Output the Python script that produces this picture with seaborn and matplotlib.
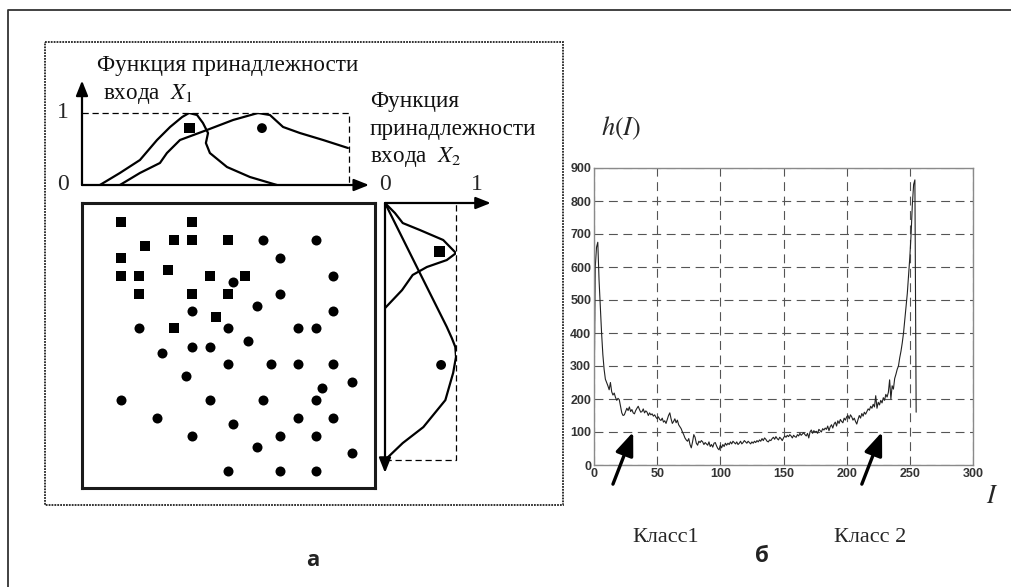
import numpy as np
import pandas as pd
import matplotlib.pyplot as plt
import seaborn as sns
from matplotlib.patches import Rectangle

W, H = 1011, 587

# --- данные: точки классов (X1 вправо, X2 вниз, 0..1) ---
sq_x1 = [0.133, 0.375, 0.314, 0.375, 0.498, 0.215, 0.133, 0.294, 0.133, 0.195,
         0.437, 0.556, 0.195, 0.375, 0.498, 0.457, 0.314]
sq_x2 = [0.067, 0.067, 0.130, 0.130, 0.130, 0.151, 0.193, 0.235, 0.256, 0.256,
         0.256, 0.256, 0.319, 0.319, 0.319, 0.400, 0.439]
ci_x1 = [0.618, 0.799, 0.676, 0.857, 0.515, 0.676, 0.597, 0.857, 0.375, 0.195,
         0.498, 0.737, 0.799, 0.567, 0.375, 0.437, 0.273, 0.498, 0.645, 0.737,
         0.857, 0.355, 0.922, 0.819, 0.133, 0.437, 0.618, 0.799, 0.256, 0.737,
         0.857, 0.515, 0.375, 0.676, 0.799, 0.597, 0.922, 0.498, 0.676, 0.799]
ci_x2 = [0.130, 0.130, 0.193, 0.256, 0.277, 0.319, 0.361, 0.379, 0.379, 0.439,
         0.439, 0.439, 0.439, 0.484, 0.505, 0.505, 0.526, 0.565, 0.565, 0.565,
         0.565, 0.607, 0.628, 0.649, 0.691, 0.691, 0.691, 0.691, 0.754, 0.754,
         0.754, 0.775, 0.818, 0.818, 0.818, 0.856, 0.877, 0.940, 0.940, 0.940]

# функции принадлежности входа X1
mf1_sq_x = [0.067, 0.142, 0.217, 0.281, 0.330, 0.375, 0.401, 0.431, 0.453, 0.472,
            0.464, 0.479, 0.543, 0.629, 0.730]
mf1_sq_mu = [0.0, 0.167, 0.347, 0.625, 0.806, 0.944, 1.0, 0.972, 0.861, 0.722,
             0.583, 0.444, 0.25, 0.111, 0.0]
mf1_ci_x = [0.142, 0.217, 0.292, 0.318, 0.367, 0.468, 0.566, 0.659, 0.704, 0.753,
            0.816, 0.903, 0.996]
mf1_ci_mu = [0.0, 0.167, 0.306, 0.444, 0.625, 0.764, 0.903, 1.0, 0.972, 0.806,
             0.722, 0.625, 0.514]

# функции принадлежности входа X2
mf2_sq_x2 = [0.0, 0.039, 0.078, 0.105, 0.144, 0.195, 0.222, 0.249, 0.28, 0.339, 0.409]
mf2_sq_mu = [0.0, 0.14, 0.25, 0.49, 0.82, 1.0, 0.87, 0.59, 0.39, 0.24, 0.0]
mf2_ci_x2 = [0.0, 0.272, 0.482, 0.525, 0.560, 0.599, 0.661, 0.767, 0.872, 0.934, 1.0]
mf2_ci_mu = [0.0, 0.49, 0.87, 0.94, 0.99, 1.0, 0.96, 0.85, 0.54, 0.25, 0.0]

# центры классов на графиках функций принадлежности
c1_x, c1_mu = [0.404, 0.674], [0.79, 0.79]
c2_mu, c2_x2 = [0.77, 0.79], [0.19, 0.63]

# гистограмма яркости h(I)
hist_h = [
    175, 600, 660, 675, 560, 480, 400, 335, 290, 260, 250, 240, 228, 250, 222, 212,
    218, 205, 196, 202, 198, 178, 158, 150, 152, 162, 172, 165, 176, 162, 168, 158,
    155, 165, 172, 178, 168, 160, 162, 170, 158, 164, 160, 150, 158, 152, 155, 148,
    152, 145, 140, 146, 138, 135, 142, 130, 134, 126, 138, 150, 158, 140, 126, 132,
    140, 128, 136, 122, 116, 110, 100, 92, 82, 76, 72, 80, 62, 52, 70, 92,
    84, 66, 60, 72, 68, 74, 70, 62, 68, 64, 60, 70, 56, 62, 54, 66,
    68, 58, 50, 46, 60, 52, 62, 56, 66, 60, 66, 62, 70, 64, 72, 68,
    64, 70, 62, 66, 72, 64, 68, 74, 70, 66, 72, 68, 64, 70, 66, 72,
    68, 74, 70, 76, 72, 80, 74, 82, 78, 72, 70, 76, 74, 80, 84, 78,
    86, 80, 76, 84, 80, 74, 82, 88, 84, 90, 86, 92, 88, 82, 90, 86,
    84, 92, 88, 96, 90, 94, 98, 92, 88, 96, 82, 100, 106, 96, 104, 100,
    102, 96, 108, 104, 100, 110, 106, 112, 108, 118, 104, 116, 122, 112, 124, 130,
    118, 134, 126, 138, 132, 128, 142, 136, 146, 150, 140, 152, 146, 136, 142, 132,
    124, 138, 150, 142, 156, 148, 160, 154, 162, 170, 166, 178, 172, 184, 176, 210,
    172, 190, 182, 196, 188, 204, 196, 214, 206, 220, 258, 200, 240, 230, 262, 275,
    290, 300, 325, 345, 370, 400, 440, 480, 520, 575, 630, 700, 790, 850, 864, 160]
hist_i = list(range(len(hist_h)))
x_ticks = [0, 50, 100, 150, 200, 250, 300]
y_ticks = [0, 100, 200, 300, 400, 500, 600, 700, 800, 900]
class_labels = ["Класс1", "Класс 2"]
class_arrow_i = [31, 228]

# --- оформление ---
sns.set_style("white")
plt.rcParams['font.family'] = ['Liberation Serif', 'DejaVu Serif']
plt.rcParams['mathtext.fontset'] = 'stix'

fig = plt.figure(figsize=(W / 100, H / 100), dpi=100)


def px_box(x0, y0, x1, y1):
    return [x0 / W, 1 - y1 / H, (x1 - x0) / W, (y1 - y0) / H]


def arrow(ax, x0, y0, x1, y1, lw=1.6, hl=0.9, hw=0.36):
    ax.annotate("", xy=(x1, y1), xytext=(x0, y0),
                arrowprops=dict(arrowstyle=f'-|>,head_length={hl},head_width={hw}',
                                color='k', lw=lw, shrinkA=0, shrinkB=0,
                                mutation_scale=10),
                annotation_clip=False)


# фон: рамки и подписи (в пикселях)
bg = fig.add_axes([0, 0, 1, 1], zorder=0)
bg.set_xlim(0, W)
bg.set_ylim(H, 0)
bg.axis('off')
bg.plot([8, 8, W], [H, 10, 10], color='#333333', lw=1.3, solid_capstyle='butt')
bg.add_patch(Rectangle((45, 42), 518, 463, fill=False, ec='#222222', lw=1.3,
                       ls=(0, (1, 0.6))))

txt = dict(fontsize=16.7, va='center', ha='left', color='#111111')
bg.text(97, 66, "Функция принадлежности", **txt)
bg.text(103, 94, "входа  $X_1$", **txt)
bg.text(370, 102, "Функция", **txt)
bg.text(370, 129, "принадлежности", **txt)
bg.text(370, 157, "входа  $X_2$", **txt)
bg.text(621, 128, "$h(I)$", fontsize=19, ha='center', va='center')
bg.text(992, 497, "$I$", fontsize=19, ha='center', va='center')
bg.text(666, 538, class_labels[0], fontsize=16, ha='center', va='center')
bg.text(870, 538, class_labels[1], fontsize=16, ha='center', va='center')
for x, y, s in [(313, 561, "а"), (762, 556, "б")]:
    bg.text(x, y, s, fontsize=16, fontweight='bold', ha='center', va='center',
            family=['Open Sans', 'DejaVu Sans'], color='#222222')

dash = dict(color='k', lw=0.9, ls=(0, (5, 3)), clip_on=False)

# --- функции принадлежности X1 (сверху) ---
ax1 = fig.add_axes(px_box(82, 113, 349, 185), zorder=1)
ax1.set_facecolor('none')
sns.lineplot(x=mf1_sq_x, y=mf1_sq_mu, sort=False, estimator=None, color='k',
             lw=1.6, ax=ax1)
sns.lineplot(x=mf1_ci_x, y=mf1_ci_mu, sort=False, estimator=None, color='k',
             lw=1.6, ax=ax1)
sns.scatterplot(x=c1_x, y=c1_mu, style=["sq", "ci"], markers={"sq": "s", "ci": "o"},
                color='k', s=[60, 50], linewidth=0, legend=False, ax=ax1)
ax1.set_xlim(0, 1)
ax1.set_ylim(0, 1)
ax1.plot([0, 1, 1], [1, 1, 0], **dash)
arrow(ax1, 0, 0, 1.075, 0)
arrow(ax1, 0, 0, 0, 1.45)
ax1.text(-0.072, 1, "1", fontsize=17, ha='center', va='center')
ax1.text(-0.072, 0, "0", fontsize=17, ha='center', va='center')
ax1.axis('off')

# --- функции принадлежности X2 (справа) ---
ax2 = fig.add_axes(px_box(385, 203, 456, 460), zorder=1)
ax2.set_facecolor('none')
sns.lineplot(x=mf2_sq_mu, y=mf2_sq_x2, sort=False, estimator=None, orient='y',
             color='k', lw=1.6, ax=ax2)
sns.lineplot(x=mf2_ci_mu, y=mf2_ci_x2, sort=False, estimator=None, orient='y',
             color='k', lw=1.6, ax=ax2)
sns.scatterplot(x=c2_mu, y=c2_x2, style=["sq", "ci"], markers={"sq": "s", "ci": "o"},
                color='k', s=[60, 50], linewidth=0, legend=False, ax=ax2)
ax2.set_xlim(0, 1)
ax2.set_ylim(1, 0)
ax2.plot([0, 1, 1], [1, 1, 0], **dash)
arrow(ax2, 0, 0, 1.49, 0)
arrow(ax2, 0, 0, 0, 1.05)
ax2.text(0, -0.072, "0", fontsize=17, ha='center', va='center')
ax2.text(1.30, -0.072, "1", fontsize=17, ha='center', va='center')
ax2.axis('off')

# --- диаграмма рассеяния ---
pts = pd.DataFrame({
    "x1": sq_x1 + ci_x1,
    "x2": sq_x2 + ci_x2,
    "cls": ["sq"] * len(sq_x1) + ["ci"] * len(ci_x1),
})
ax3 = fig.add_axes(px_box(82, 203, 375, 488), zorder=1)
ax3.set_facecolor('none')
sns.scatterplot(data=pts[pts.cls == "sq"], x="x1", y="x2", marker='s', color='k',
                s=62, linewidth=0, legend=False, ax=ax3)
sns.scatterplot(data=pts[pts.cls == "ci"], x="x1", y="x2", marker='o', color='k',
                s=52, linewidth=0, legend=False, ax=ax3)
ax3.set_xlim(0, 1)
ax3.set_ylim(1, 0)
ax3.set_xticks([])
ax3.set_yticks([])
ax3.set_xlabel("")
ax3.set_ylabel("")
for sp in ax3.spines.values():
    sp.set_visible(True)
    sp.set_color('#1a1a1a')
    sp.set_linewidth(2.2)

# --- гистограмма ---
ax4 = fig.add_axes(px_box(594, 168, 973, 465), zorder=1)
ax4.set_facecolor('none')
sns.lineplot(x=hist_i, y=hist_h, color='#222222', lw=0.8, estimator=None, ax=ax4)
ax4.set_xlim(0, 300)
ax4.set_ylim(0, 900)
ax4.set_xticks(x_ticks)
ax4.set_yticks(y_ticks)
ax4.grid(True, color='#555555', lw=0.8, ls=(0, (8, 5)))
ax4.tick_params(length=0, pad=2, labelsize=9, labelcolor='#333333')
for lab in ax4.get_xticklabels() + ax4.get_yticklabels():
    lab.set_family(['Liberation Sans', 'DejaVu Sans'])
    lab.set_fontweight('bold')
for sp in ax4.spines.values():
    sp.set_visible(True)
    sp.set_color('#8a8a8a')
    sp.set_linewidth(1.0)
for xi in class_arrow_i:
    arrow(ax4, xi - 16, -58, xi, 100, lw=2.4, hl=1.4, hw=0.55)

fig.savefig("out.png", dpi=100)
